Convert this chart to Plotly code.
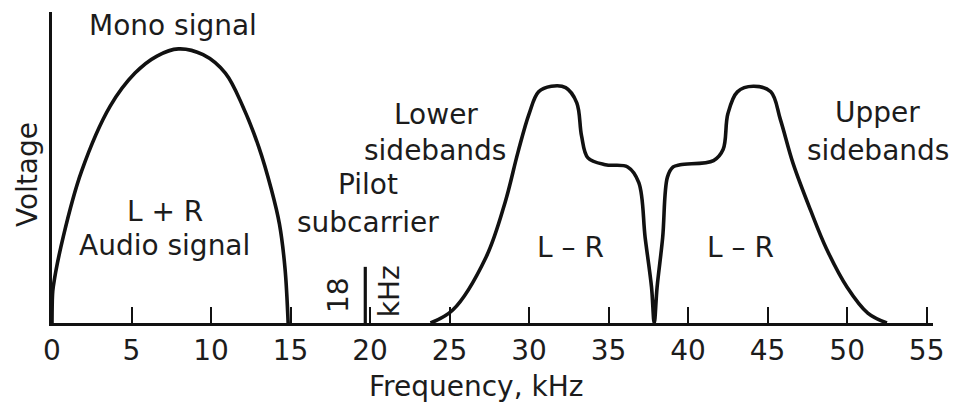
import plotly.graph_objects as go

# ---- data ----
mono_freq = [0, 0.03, 0.08, 0.71, 1.85, 3.65, 5.22, 6.6, 7.95, 9.5, 10.9, 12.0, 13.0, 13.8,
             14.3, 14.65, 14.85]
mono_volt = [0, 0.1, 0.132, 0.314, 0.55, 0.787, 0.908, 0.97, 0.996, 0.975, 0.908, 0.787, 0.64,
             0.484, 0.36, 0.2, 0]

side_freq = [23.8, 25.2, 27.3, 28.5, 29.3, 30.0, 30.6, 31.4, 32.3, 33.0, 33.3, 33.7, 34.8, 36.2,
             36.9, 37.3, 37.7, 37.87, 38.05, 38.4, 38.7, 39.06, 39.5, 41.6, 42.2, 42.5, 43.1,
             44.1, 45.2, 45.8, 46.6, 47.7, 48.7, 50.0, 51.3, 52.5]
side_volt = [0, 0.047, 0.24, 0.44, 0.62, 0.76, 0.84, 0.86, 0.855, 0.80, 0.68, 0.60, 0.575, 0.567,
             0.51, 0.31, 0.13, 0, 0.13, 0.31, 0.53, 0.567, 0.575, 0.59, 0.63, 0.76, 0.84,
             0.86, 0.84, 0.74, 0.58, 0.41, 0.27, 0.13, 0.036, 0]

pilot_freq = [19.7, 19.7]
pilot_volt = [0, 0.204]

tick_vals = [0, 5, 10, 15, 20, 25, 30, 35, 40, 45, 50, 55]
tick_text = [str(v) for v in tick_vals]

FONT = "DejaVu Sans, Liberation Sans, Arial, sans-serif"
TXT = "#1c1c1c"
LINE = "#111111"
FS = 28

fig = go.Figure()
fig.add_trace(go.Scatter(x=mono_freq, y=mono_volt, mode="lines",
                         line=dict(color=LINE, width=3.6, shape="spline", smoothing=1.0),
                         hoverinfo="skip"))
fig.add_trace(go.Scatter(x=side_freq, y=side_volt, mode="lines",
                         line=dict(color=LINE, width=3.6, shape="spline", smoothing=1.0),
                         hoverinfo="skip"))
fig.add_trace(go.Scatter(x=pilot_freq, y=pilot_volt, mode="lines",
                         line=dict(color=LINE, width=3.2), hoverinfo="skip"))

labels = [
    ("Mono signal", 7.61, 1.08, 0),
    ("L + R", 7.1, 0.405, 0),
    ("Audio signal", 7.1, 0.28, 0),
    ("Pilot", 19.87, 0.505, 0),
    ("subcarrier", 19.87, 0.364, 0),
    ("18", 18.05, 0.102, -90),
    ("kHz", 21.2, 0.116, -90),
    ("Lower", 24.12, 0.756, 0),
    ("sidebands", 24.09, 0.627, 0),
    ("L \u2013 R", 32.6, 0.276, 0),
    ("L \u2013 R", 43.3, 0.276, 0),
    ("Upper", 51.9, 0.764, 0),
    ("sidebands", 51.95, 0.625, 0),
]
for txt, x, y, ang in labels:
    fig.add_annotation(x=x, y=y, xref="x", yref="y", text=txt, showarrow=False,
                       textangle=ang, xanchor="center", yanchor="middle",
                       font=dict(family=FONT, size=FS, color=TXT))

fig.add_annotation(x=0.481, y=-0.2026, xref="paper", yref="paper", text="Frequency, kHz",
                   showarrow=False, xanchor="center", yanchor="middle",
                   font=dict(family=FONT, size=FS, color=TXT))
fig.add_annotation(x=-0.0272, y=0.476, xref="paper", yref="paper", text="Voltage",
                   showarrow=False, textangle=-90, xanchor="center", yanchor="middle",
                   font=dict(family=FONT, size=FS, color=TXT))

fig.update_layout(
    width=955, height=411,
    margin=dict(l=52, r=22, t=12, b=88),
    paper_bgcolor="white", plot_bgcolor="white",
    showlegend=False,
    xaxis=dict(range=[0, 55.4], tickvals=tick_vals, ticktext=tick_text,
               showgrid=False, zeroline=False, showline=True, linecolor=LINE, linewidth=3,
               ticks="inside", ticklen=16, tickwidth=2, tickcolor=LINE, automargin=False,
               tickfont=dict(family=FONT, size=FS, color=TXT), fixedrange=True),
    yaxis=dict(range=[0, 1.13], showgrid=False, zeroline=False, showline=True, automargin=False,
               linecolor=LINE, linewidth=3, showticklabels=False, ticks="", fixedrange=True),
)

fig.write_html("out.html", config={"displayModeBar": False},
               post_script="document.body.style.margin='0';document.body.style.overflow='hidden';")
